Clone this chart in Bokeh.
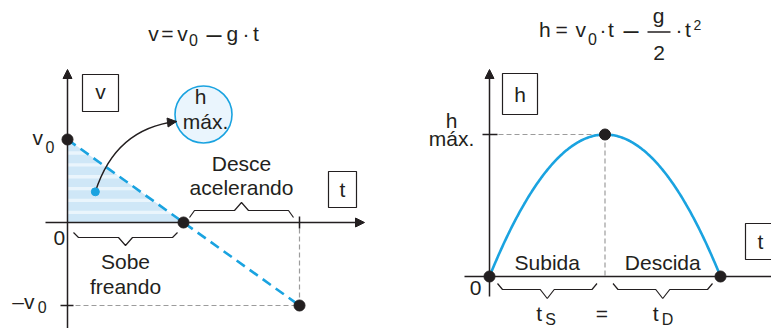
import numpy as np
from bokeh.plotting import figure
from bokeh.layouts import row
from bokeh.models import Range1d, Arrow, NormalHead
from bokeh.core.properties import value
from bokeh.embed import file_html
from bokeh.resources import INLINE

# ---- vertical launch, normalised units (v0 = 1, g = 1) ----
v0 = 1.0
g = 1.0
t_s = v0 / g                  # ascent time
t_d = v0 / g                  # descent time
t_total = t_s + t_d
h_max = v0 ** 2 / (2 * g)

# key instants: launch, highest point, return
t_keys = [0.0, t_s, t_total]
v_keys = [v0, 0.0, -v0]
h_keys = [0.0, h_max, 0.0]

# marker inside the area under v(t) (area = h max.)
area_t = 0.24
area_v = 0.37

# texts
label_up = ["Sobe", "freando"]
label_down = ["Desce", "acelerando"]
label_hmax = ["h", "máx."]
label_phases = ["Subida", "Descida"]

# ---- style ----
TXT = "#231f20"
BLUE = "#1aa3e0"
GREY = "#9c9c9c"
FONT = value("Liberation Sans")
H = 328
LIFT = 0.35   # em fraction: raise glyph runs so that y marks the baseline


class Panel:
    """A bare figure whose data origin sits at a given pixel of the page."""

    def __init__(self, width, left, ox, oy, kx, ky):
        self.left, self.ox, self.oy, self.kx, self.ky = left, ox, oy, kx, ky
        self.p = figure(
            width=width, height=H,
            x_range=Range1d((left - ox) / kx, (left + width - ox) / kx),
            y_range=Range1d((oy - H) / ky, oy / ky),
            output_backend="svg", toolbar_location=None,
            x_axis_location=None, y_axis_location=None,
            min_border=0, outline_line_color=None,
            background_fill_color="white", border_fill_color="white",
        )
        self.p.grid.visible = False

    # page pixel -> data
    def x(self, X):
        return (X - self.ox) / self.kx

    def y(self, Y):
        return (self.oy - Y) / self.ky

    # pixel offsets -> data offsets (dy > 0 means downwards)
    def dx(self, px):
        return px / self.kx

    def dy(self, px):
        return -px / self.ky


def txt(pn, x, y, s, size=21, align="left"):
    pn.p.text(x=[x], y=[y + pn.dy(-LIFT * size)], text=[s], text_font=FONT,
              text_font_size=f"{size}px", text_color=TXT,
              text_align=align, text_baseline="alphabetic")


def ptxt(pn, X, Y, s, size=21, align="left"):
    txt(pn, pn.x(X), pn.y(Y), s, size, align)


def axis_arrow(pn, x0, y0, x1, y1):
    pn.p.add_layout(Arrow(x_start=x0, y_start=y0, x_end=x1, y_end=y1,
                          line_color=TXT, line_width=1.5,
                          end=NormalHead(size=9, fill_color=TXT,
                                         line_color=TXT)))


def brace(pn, ta, tb, y_axis, ends, bar, tip, inset=7):
    """Curly brace over [ta, tb]; ends/bar/tip are pixel offsets below the axis."""
    Xa = pn.ox + ta * pn.kx + inset
    Xb = pn.ox + tb * pn.kx - inset
    M = (Xa + Xb) / 2
    Y = pn.oy - y_axis * pn.ky
    px = [Xa, Xa + 5, M - 7, M, M + 7, Xb - 5, Xb]
    py = [Y + ends, Y + bar, Y + bar, Y + tip, Y + bar, Y + bar, Y + ends]
    pn.p.line([pn.x(X) for X in px], [pn.y(Yv) for Yv in py],
              line_color=TXT, line_width=1.2)


def box(pn, X, Y, w, h, s, base):
    pn.p.rect(x=[pn.x(X)], y=[pn.y(Y)], width=w, height=h,
              width_units="screen", height_units="screen",
              fill_color="white", line_color=TXT, line_width=1.2)
    ptxt(pn, X, Y + base, s, align="center")


# =================== left: v x t ===================
L = Panel(385, 0, 67, 222, 116, 83)
p = L.p

# area under v(t) during the ascent, drawn as horizontal bands
p.patch(x=[0, 0, t_s], y=[0, v0, 0], fill_color="#eaf5fc", line_color=None)
n_bands = 7
step = v0 / n_bands
bx, by = [], []
for k in range(n_bands):
    lo, hi = k * step, k * step + 0.72 * step
    bx.append([0, (v0 - lo) / g, (v0 - hi) / g, 0])
    by.append([lo, lo, hi, hi])
p.patches(bx, by, fill_color="#cfe7f7", line_color=None)

# guide lines to -v0
p.line([0, t_total], [-v0, -v0], line_color=GREY, line_width=1.2, line_dash="5 3")
p.line([t_total, t_total], [-v0, 0], line_color=GREY, line_width=1.2, line_dash="5 3")

# axes
axis_arrow(L, L.x(45), 0, L.x(364), 0)
axis_arrow(L, 0, L.y(H + 2), 0, L.y(69))
p.segment(x0=[t_total], y0=[L.dy(-6)], x1=[t_total], y1=[L.dy(6)],
          line_color=TXT, line_width=1.5)
p.segment(x0=[L.dx(-7)], y0=[-v0], x1=[L.dx(6)], y1=[-v0],
          line_color=TXT, line_width=1.5)

# v(t) line
p.line(t_keys, v_keys, line_color=BLUE, line_width=2.6, line_dash="10 6")

# "h máx." bubble and the curved arrow pointing to it
cc_x, cc_y = L.x(203), L.y(114)
p.scatter(x=[cc_x], y=[cc_y], size=57, marker="circle",
          fill_color="#eaf5fd", line_color=BLUE, line_width=1.6)
tip_X, tip_Y = 176, 121
ctl_X, ctl_Y = 115, 128
p.quadratic(x0=[area_t], y0=[area_v], x1=[L.x(tip_X)], y1=[L.y(tip_Y)],
            cx=[L.x(ctl_X)], cy=[L.y(ctl_Y)], line_color=TXT, line_width=1.4)
d = np.array([tip_X - ctl_X, tip_Y - ctl_Y], float)
d /= np.hypot(*d)
p.add_layout(Arrow(x_start=L.x(tip_X - 4 * d[0]), y_start=L.y(tip_Y - 4 * d[1]),
                   x_end=L.x(tip_X), y_end=L.y(tip_Y), line_color=TXT,
                   line_width=1.2,
                   end=NormalHead(size=9, fill_color=TXT, line_color=TXT)))
p.scatter(x=[area_t], y=[area_v], size=8, marker="circle", color=BLUE)
txt(L, cc_x + L.dx(-3), cc_y + L.dy(-11), label_hmax[0], align="center")
txt(L, cc_x + L.dx(2), cc_y + L.dy(14), label_hmax[1], align="center")

# key points
p.scatter(t_keys, v_keys, size=11, marker="circle", color=TXT)

# braces and their texts
brace(L, 0, t_s, 0, 10, 15, 23, inset=6)
brace(L, t_s, t_total, 0, -5, -12, -20, inset=6)
txt(L, t_s / 2, L.dy(46), label_up[0], align="center")
txt(L, t_s / 2, L.dy(71), label_up[1], align="center")
txt(L, (t_s + t_total) / 2, L.dy(-52), label_down[0], align="center")
txt(L, (t_s + t_total) / 2, L.dy(-28), label_down[1], align="center")

# axis labels
txt(L, L.dx(-35), v0 + L.dy(5), "v")
txt(L, L.dx(-22), v0 + L.dy(13), "0", 16)
txt(L, L.dx(-14), L.dy(23), "0")
txt(L, L.dx(-55.3), -v0 + L.dy(3), "–v")
txt(L, L.dx(-29.7), -v0 + L.dy(7), "0", 16)
box(L, 100, 92.5, 36, 37, "v", 5.5)
box(L, 342, 189, 28, 36, "t", 7)

# equation v = v0 – g · t
for s, X, Y, size in [("v", 147.7, 40, 21), ("=", 160.7, 40, 21), ("v", 176.7, 40, 21),
                      ("0", 188.4, 45, 16), ("–", 206, 43, 27), ("g", 226, 40, 21),
                      ("·", 242, 40, 21), ("t", 252.6, 40, 21)]:
    ptxt(L, X, Y, s, size)

# =================== right: h x t ===================
R = Panel(386, 385, 489, 276, 115.5, 284)
q = R.p

# guide lines to the highest point
q.line([R.x(498), t_s], [h_max, h_max], line_color=GREY, line_width=1.2, line_dash="5 3")
q.line([t_s, t_s], [h_max, 0], line_color=GREY, line_width=1.2, line_dash="5 3")

# axes
axis_arrow(R, R.x(464), 0, R.x(790), 0)
axis_arrow(R, 0, R.y(296), 0, R.y(69))
q.segment(x0=[R.dx(-7)], y0=[h_max], x1=[R.dx(8)], y1=[h_max],
          line_color=TXT, line_width=1.5)

# h(t) = v0 t - g t^2 / 2
tt = np.linspace(0, t_total, 200)
q.line(tt, v0 * tt - g / 2 * tt ** 2, line_color=BLUE, line_width=2.6)
q.scatter(t_keys, h_keys, size=11, marker="circle", color=TXT)

# braces and texts
brace(R, 0, t_s, 0, 7, 13, 22, inset=8)
brace(R, t_s, t_total, 0, 7, 13, 22, inset=8)
txt(R, t_s / 2, R.dy(-7), label_phases[0], align="center")
txt(R, (t_s + t_total) / 2, R.dy(-7), label_phases[1], align="center")
txt(R, t_s / 2 + R.dx(-11), R.dy(44), "t")
txt(R, t_s / 2 + R.dx(-2), R.dy(49), "S", 16)
txt(R, t_s + R.dx(-3), R.dy(44), "=", align="center")
txt(R, 1.5 * t_s + R.dx(-10), R.dy(44), "t")
txt(R, 1.5 * t_s + R.dx(-1), R.dy(49), "D", 16)

# axis labels
txt(R, R.dx(-38), h_max + R.dy(-7), label_hmax[0], align="center")
txt(R, R.dx(-38), h_max + R.dy(11), label_hmax[1], align="center")
txt(R, R.dx(-14), R.dy(19), "0", align="center")
box(R, 519.5, 93.5, 35, 41, "h", 7.5)
box(R, 760, 241, 30, 36, "t", 7)

# equation h = v0 · t – (g / 2) · t²
for s, X, Y, size in [("h", 538.6, 36, 21), ("=", 555, 36, 21), ("v", 575, 36, 21),
                      ("0", 587.4, 44, 16), ("·", 599, 36, 21), ("t", 607.6, 36, 21),
                      ("–", 623, 39, 27), ("·", 675, 36, 21), ("t", 684.6, 36, 21),
                      ("2", 693, 29, 14)]:
    ptxt(R, X, Y, s, size)
ptxt(R, 658, 22.5, "g", align="center")
ptxt(R, 658.5, 60, "2", align="center")
q.segment(x0=[R.x(647)], y0=[R.y(31.5)], x1=[R.x(670)], y1=[R.y(31.5)],
          line_color=TXT, line_width=1.3)

layout = row(L.p, R.p)
open("out.html", "w").write(file_html(layout, INLINE))
